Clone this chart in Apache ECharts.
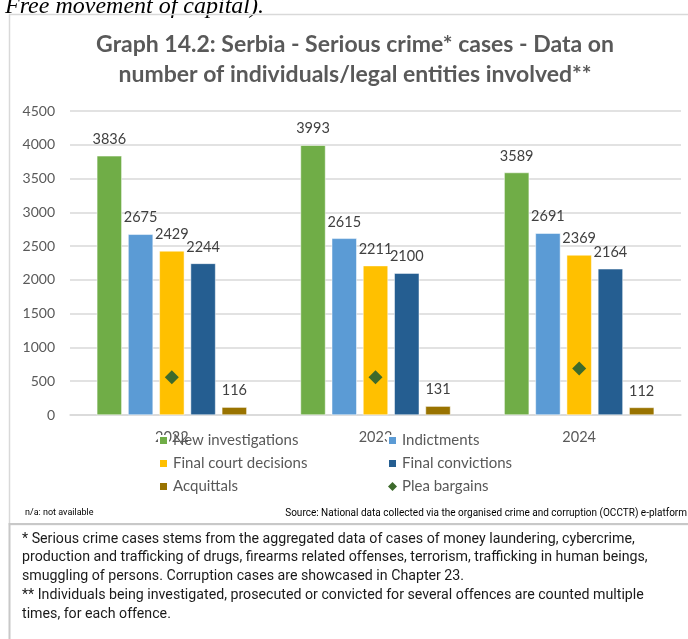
<!DOCTYPE html>
<html><head><meta charset="utf-8">
<script src="https://cdn.jsdelivr.net/npm/echarts@6/dist/echarts.min.js"></script>
<style>html,body{margin:0;padding:0;background:#fff;}#c{width:688px;height:639px;}</style>
</head><body><div id="c"></div>
<script>
var years = ['2022', '2023', '2024'];
var newInvestigations = [3836, 3993, 3589];
var indictments = [2675, 2615, 2691];
var finalCourtDecisions = [2429, 2211, 2369];
var finalConvictions = [2244, 2100, 2164];
var acquittals = [116, 131, 112];
var pleaBargains = [560, 560, 690];
var yTicks = {min: 0, max: 4500, interval: 500};

var chart = echarts.init(document.getElementById('c'), null, {renderer: 'canvas'});
var FONT = 'Lato';
var txt = '#595959';
var pleaColor = '#3d6a2c';
function bar(name, data, color) {
  return {
    name: name, type: 'bar', data: data, barWidth: 25, barGap: '25%',
    itemStyle: {color: color, borderColor: '#ffffff', borderWidth: 0.5},
    label: {show: true, position: 'top', distance: 9, color: '#404040', fontSize: 14.5, fontFamily: FONT},
    emphasis: {disabled: true}
  };
}
var footLines = [
  '* Serious crime cases stems from the aggregated data of cases of money laundering, cybercrime,',
  'production and trafficking of drugs, firearms related offenses, terrorism, trafficking in human beings,',
  'smuggling of persons. Corruption cases are showcased in Chapter 23.',
  '** Individuals being investigated, prosecuted or convicted for several offences are counted multiple',
  'times, for each offence.'
];
var graphics = [
  {type: 'text', left: 5, top: -5, style: {text: 'Free movement of capital).', font: 'italic 24px "Liberation Serif"', fill: '#000'}},
  {type: 'rect', shape: {x: 9.5, y: 14.5, width: 700, height: 510}, style: {fill: 'none', stroke: '#d9d9d9', lineWidth: 1.5}, silent: true},
  {type: 'rect', shape: {x: 9.5, y: 524, width: 700, height: 130}, style: {fill: 'none', stroke: '#c8c8c8', lineWidth: 2}, silent: true},
  {type: 'text', x: 355, y: 45, style: {text: 'Graph 14.2: Serbia - Serious crime* cases - Data on', font: 'bold 23px Lato', fill: txt, textAlign: 'center', textVerticalAlign: 'middle'}},
  {type: 'text', x: 355, y: 75, style: {text: 'number of individuals/legal entities involved**', font: 'bold 23px Lato', fill: txt, textAlign: 'center', textVerticalAlign: 'middle'}},
  {type: 'text', x: 25, y: 513, style: {text: 'n/a: not available', font: '9px Roboto', fill: '#000', textVerticalAlign: 'middle'}},
  {type: 'text', x: 687, y: 513, style: {text: 'Source: National data collected via the organised crime and corruption (OCCTR) e-platform', font: '10px Roboto', fill: '#000', textAlign: 'right', textVerticalAlign: 'middle'}}
];
footLines.forEach(function (t, i) {
  graphics.push({type: 'text', x: 22, y: 539 + i * 18.8, style: {text: t, font: '14.2px Roboto', fill: '#1a1a1a', textVerticalAlign: 'middle'}});
});

var legendText = {color: txt, fontSize: 15, fontFamily: FONT};
chart.setOption({
  animation: false,
  textStyle: {fontFamily: FONT},
  grid: {left: 70, right: 7, top: 111, bottom: 224},
  xAxis: {
    type: 'category', data: years,
    axisLine: {lineStyle: {color: '#d9d9d9', width: 1.5}},
    axisTick: {show: false},
    axisLabel: {color: txt, fontSize: 14.5, fontFamily: FONT, margin: 15}
  },
  yAxis: {
    type: 'value', min: yTicks.min, max: yTicks.max, interval: yTicks.interval,
    axisLine: {show: false}, axisTick: {show: false},
    axisLabel: {color: txt, fontSize: 14, fontFamily: FONT, margin: 15, formatter: function (v) { return String(v); }},
    splitLine: {lineStyle: {color: '#d9d9d9', width: 1.5}}
  },
  legend: [
    {orient: 'vertical', left: 153, top: 428, itemWidth: 9, itemHeight: 9, itemGap: 8, textStyle: legendText,
     data: [{name: 'New investigations', icon: 'rect'}, {name: 'Final court decisions', icon: 'rect'}, {name: 'Acquittals', icon: 'rect'}], selectedMode: false},
    {orient: 'vertical', left: 382, top: 428, itemWidth: 9, itemHeight: 9, itemGap: 8, textStyle: legendText,
     data: [{name: 'Indictments', icon: 'rect'}, {name: 'Final convictions', icon: 'rect'},
            {name: 'Plea bargains', icon: 'diamond', itemStyle: {color: pleaColor, opacity: 1}}], selectedMode: false}
  ],
  series: [
    bar('New investigations', newInvestigations, '#70ad47'),
    bar('Indictments', indictments, '#5b9bd5'),
    bar('Final court decisions', finalCourtDecisions, '#ffc000'),
    bar('Final convictions', finalConvictions, '#255e91'),
    bar('Acquittals', acquittals, '#997300'),
    {name: 'Plea bargains', type: 'scatter', data: pleaBargains, symbol: 'diamond', symbolSize: [14, 14],
     itemStyle: {color: pleaColor, opacity: 1}, z: 5, emphasis: {disabled: true}}
  ],
  graphic: graphics
});
</script></body></html>
